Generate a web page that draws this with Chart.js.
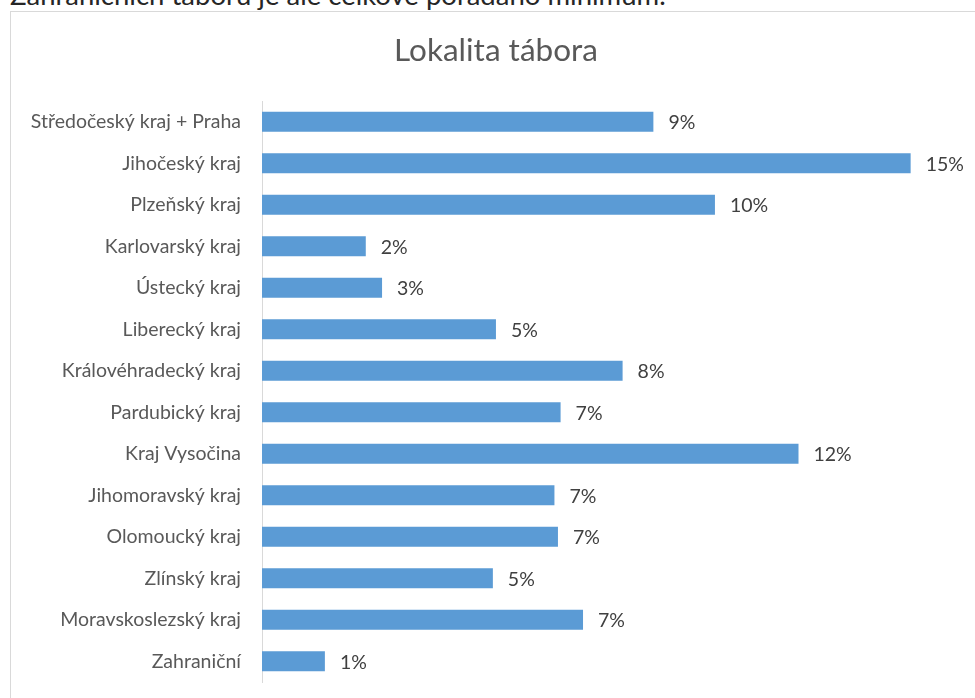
<!DOCTYPE html>
<html>
<head>
<meta charset="utf-8">
<script src="https://cdn.jsdelivr.net/npm/chart.js@4"></script>
<style>
  html, body { margin: 0; padding: 0; background: #fff; overflow: hidden; width: 975px; height: 698px; }
  #para { position: absolute; left: 10px; top: -22px; font-family: Lato, "Open Sans", sans-serif; font-size: 27.5px; color: #262626; white-space: nowrap; }
  #box { position: absolute; left: 10px; top: 11px; width: 975px; height: 700px; border: 1px solid #d9d9d9; box-sizing: border-box; }
  #wrap { position: absolute; left: 0; top: 0; width: 973px; height: 698px; }
</style>
</head>
<body>
<div id="para">Zahraničních táborů je ale celkově pořádáno minimum.</div>
<div id="box"><div id="wrap"><canvas id="c"></canvas></div></div>
<script>
const titleText = "Lokalita tábora";
const categories = [
  "Středočeský kraj + Praha",
  "Jihočeský kraj",
  "Plzeňský kraj",
  "Karlovarský kraj",
  "Ústecký kraj",
  "Liberecký kraj",
  "Královéhradecký kraj",
  "Pardubický kraj",
  "Kraj Vysočina",
  "Jihomoravský kraj",
  "Olomoucký kraj",
  "Zlínský kraj",
  "Moravskoslezský kraj",
  "Zahraniční"
];
const values = [8.9, 14.75, 10.3, 2.36, 2.73, 5.32, 8.2, 6.79, 12.2, 6.65, 6.73, 5.25, 7.3, 1.43];
const axisMax = 16.35;

const FONT = 'Lato, "Open Sans", sans-serif';

const barLabels = {
  id: 'barLabels',
  afterDatasetsDraw(chart) {
    const ctx = chart.ctx;
    const meta = chart.getDatasetMeta(0);
    ctx.save();
    ctx.font = '19.5px ' + FONT;
    ctx.fillStyle = '#404040';
    ctx.textAlign = 'left';
    ctx.textBaseline = 'middle';
    meta.data.forEach((bar, i) => {
      const v = chart.data.datasets[0].data[i];
      ctx.fillText(Math.round(v) + '%', bar.x + 15, bar.y + 1);
    });
    ctx.restore();
  }
};

new Chart(document.getElementById('c'), {
  type: 'bar',
  data: {
    labels: categories,
    datasets: [{
      data: values,
      backgroundColor: '#5B9BD5',
      borderWidth: 0,
      categoryPercentage: 1.0,
      barPercentage: 0.48
    }]
  },
  options: {
    indexAxis: 'y',
    responsive: true,
    maintainAspectRatio: false,
    animation: false,
    events: [],
    layout: { padding: { left: 0, right: 3, top: 0, bottom: 28 } },
    plugins: {
      legend: { display: false },
      tooltip: { enabled: false },
      title: {
        display: true,
        text: titleText,
        color: '#595959',
        font: { family: FONT, size: 31.5, weight: 'normal', lineHeight: 1.2 },
        padding: { top: 20, bottom: 31.2 }
      }
    },
    scales: {
      x: { display: false, min: 0, max: axisMax },
      y: {
        afterFit(scale) { scale.width = 251; scale.paddingTop = 0; scale.paddingBottom = 0; },
        grid: { display: false, drawTicks: false },
        border: { display: true, color: '#d9d9d9', width: 1 },
        ticks: { color: '#595959', font: { family: FONT, size: 19.5 }, padding: 21 }
      }
    }
  },
  plugins: [barLabels]
});
</script>
</body>
</html>
